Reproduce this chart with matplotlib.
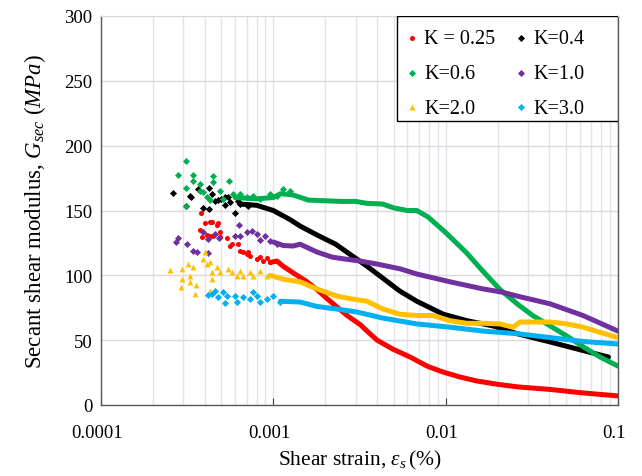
import numpy as np
import matplotlib.pyplot as plt
import matplotlib.transforms as mtransforms
from matplotlib.patches import Rectangle
from matplotlib.ticker import FixedLocator, FixedFormatter, NullFormatter, LogLocator

plt.rcParams['font.family'] = ['Liberation Serif', 'DejaVu Serif']
plt.rcParams['mathtext.fontset'] = 'custom'
plt.rcParams['mathtext.rm'] = 'Liberation Serif'
plt.rcParams['mathtext.it'] = 'Liberation Serif:italic'

labels = ['K = 0.25', 'K=0.4', 'K=0.6', 'K=1.0', 'K=2.0', 'K=3.0']
colors = ['#ff0000', '#000000', '#00b050', '#7030a0', '#ffc000', '#00b0f0']
markers = ['o', 'D', 'D', 'D', '^', 'D']

# scattered points at small strain (strain %, G MPa)
k025_sx = [3.81e-4, 4.29e-4, 3.75e-4, 4.78e-4, 3.86e-4, 4.29e-4, 4.91e-4, 4.91e-4, 5.39e-4, 5.61e-4,
           6.24e-4, 6.41e-4, 7.04e-4, 7.32e-4, 8.37e-4, 8.71e-4, 9.57e-4, 4.02e-4, 4.41e-4, 4.71e-4,
           4.12e-4, 4.47e-4, 5.76e-4, 6.67e-4, 7.13e-4, 8.04e-4, 9.19e-4]
k025_sy = [148.1, 141.1, 134.9, 140.4, 129.6, 130.3, 133.4, 129.6, 128.8, 122.6,
           124.2, 118.8, 116.5, 114.9, 114.1, 111.1, 110.3, 140.4, 141.1, 138.8,
           131.1, 130.3, 124.2, 118.0, 118.0, 112.6, 113.4]

k04_sx = [2.62e-4, 3.29e-4, 3.11e-4, 3.66e-4, 3.91e-4, 4.24e-4, 4.41e-4, 4.78e-4, 5.24e-4, 5.61e-4,
          6.00e-4, 6.24e-4, 3.35e-4, 4.24e-4, 4.59e-4, 5.00e-4, 5.46e-4, 6.41e-4, 7.13e-4, 5.24e-4]
k04_sy = [163.5, 161.2, 153.5, 166.6, 151.9, 151.2, 162.7, 158.1, 160.4, 156.5,
          148.1, 157.3, 160.4, 167.3, 157.3, 158.9, 160.4, 155.0, 153.5, 154.2]

k06_sx = [3.11e-4, 2.80e-4, 3.42e-4, 3.11e-4, 3.42e-4, 3.75e-4, 4.47e-4, 4.47e-4, 5.53e-4, 3.11e-4,
          3.75e-4, 4.12e-4, 4.91e-4, 5.11e-4, 5.84e-4, 6.41e-4, 7.04e-4, 7.62e-4, 8.37e-4, 9.57e-4,
          1.05e-3, 1.14e-3, 1.25e-3, 3.91e-4, 4.29e-4]
k06_sy = [188.2, 177.4, 177.4, 167.3, 172.7, 170.4, 176.6, 172.0, 172.7, 153.5,
          165.0, 160.4, 165.0, 158.9, 162.7, 162.7, 160.4, 161.2, 158.9, 162.7,
          161.2, 166.6, 165.0, 164.3, 158.1]

k10_sx = [2.72e-4, 2.80e-4, 3.16e-4, 3.42e-4, 3.61e-4, 4.18e-4, 3.91e-4, 4.18e-4, 4.59e-4, 4.84e-4,
          6.00e-4, 6.32e-4, 6.41e-4, 7.04e-4, 7.52e-4, 8.04e-4, 8.37e-4, 8.95e-4, 9.57e-4, 1.05e-3]
k10_sy = [125.7, 128.8, 124.2, 118.8, 118.0, 117.2, 133.4, 128.0, 131.9, 128.8,
          130.3, 138.8, 130.3, 133.4, 134.2, 131.9, 127.2, 130.3, 126.5, 124.2]

k20_sx = [2.52e-4, 2.95e-4, 2.95e-4, 2.91e-4, 3.20e-4, 3.42e-4, 3.29e-4, 3.29e-4, 3.56e-4, 3.91e-4,
          4.12e-4, 4.29e-4, 4.41e-4, 4.41e-4, 4.71e-4, 4.91e-4, 5.46e-4, 5.76e-4, 6.16e-4, 6.41e-4,
          6.67e-4, 7.32e-4, 7.62e-4, 8.37e-4, 9.19e-4, 4.02e-4, 4.29e-4, 3.52e-4]
k20_sy = [104.1, 104.9, 97.2, 91.0, 108.7, 106.4, 99.5, 94.9, 92.5, 112.6,
          108.7, 110.3, 102.6, 97.2, 106.4, 102.6, 104.9, 102.6, 99.5, 103.3,
          99.5, 102.6, 99.5, 103.3, 99.5, 118.0, 88.0, 85.6]

k30_sx = [4.41e-4, 4.59e-4, 5.11e-4, 5.39e-4, 4.78e-4, 6.00e-4, 6.16e-4, 6.67e-4, 7.32e-4, 7.62e-4,
          8.04e-4, 8.37e-4, 9.19e-4, 9.96e-4, 1.09e-3, 4.18e-4, 5.24e-4]
k30_sy = [85.6, 87.9, 87.1, 84.1, 83.3, 84.1, 79.4, 83.3, 81.7, 87.1,
          84.1, 79.4, 81.7, 84.1, 79.4, 84.8, 78.7]

# dense part of each record (strain %, G MPa)
k025_cx = [9.6e-4, 1.05e-3, 1.14e-3, 1.30e-3, 1.57e-3, 1.79e-3, 2.05e-3, 2.34e-3, 2.68e-3, 3.19e-3,
           3.50e-3, 4.00e-3, 4.95e-3, 6.22e-3, 7.80e-3, 9.66e-3, 1.21e-2, 1.52e-2, 1.99e-2, 2.60e-2,
           4.04e-2, 6.27e-2, 0.1]
k025_cy = [110, 111, 107, 102, 95, 89, 82, 75.6, 69, 62,
           57, 50, 43, 37, 30, 25.4, 21.6, 18.5, 16, 14,
           12, 9.3, 7]

k04_cx = [6.4e-4, 8.0e-4, 1.0e-3, 1.25e-3, 1.43e-3, 1.80e-3, 2.30e-3, 2.80e-3, 3.50e-3, 4.30e-3,
          5.40e-3, 6.80e-3, 9.70e-3, 1.33e-2, 1.88e-2, 2.60e-2, 4.04e-2, 6.27e-2, 8.80e-2]
k04_cy = [155, 154, 150, 143, 138, 131, 124, 116, 107, 98,
          88, 80, 70, 65, 61, 55, 48.6, 42, 37]

k06_cx = [6.0e-4, 8.0e-4, 1.0e-3, 1.1e-3, 1.3e-3, 1.6e-3, 2.0e-3, 2.5e-3, 3.0e-3, 3.5e-3,
          4.3e-3, 5.0e-3, 6.0e-3, 6.8e-3, 7.9e-3, 1.0e-2, 1.33e-2, 1.65e-2, 2.07e-2, 2.6e-2,
          3.2e-2, 4.04e-2, 5.07e-2, 6.27e-2, 7.87e-2, 0.1]
k06_cy = [160, 159, 160, 163, 162, 158, 157.5, 157, 157, 155.5,
          155, 152, 150, 150, 145, 133, 117, 103, 89, 78,
          69, 61, 53, 45, 37, 30]

k10_cx = [1.0e-3, 1.14e-3, 1.30e-3, 1.43e-3, 1.79e-3, 2.2e-3, 2.6e-3, 3.19e-3, 4.0e-3, 5.44e-3,
          6.82e-3, 1.06e-2, 1.65e-2, 2.13e-2, 2.6e-2, 4.04e-2, 6.27e-2, 0.1]
k10_cy = [125.7, 123, 122.6, 124, 118, 114, 112.6, 111, 108.7, 105,
          101, 95, 89.5, 87, 84, 78, 69, 57]

k20_cx = [9.6e-4, 1.14e-3, 1.43e-3, 1.79e-3, 2.34e-3, 2.79e-3, 3.5e-3, 4.33e-3, 5.44e-3, 6.82e-3,
          8.45e-3, 1.06e-2, 1.33e-2, 1.65e-2, 2.07e-2, 2.46e-2, 2.7e-2, 3.22e-2, 4.04e-2, 5.07e-2,
          6.27e-2, 7.87e-2, 0.1]
k20_cy = [100, 97, 95, 89.5, 84, 82, 80, 74, 70, 69,
          69, 65, 63, 63, 62.5, 60, 64, 64, 64, 62.5,
          60, 56, 52]

k30_cx = [1.1e-3, 1.43e-3, 1.79e-3, 2.34e-3, 3.06e-3, 4.33e-3, 6.82e-3, 1.06e-2, 1.65e-2, 2.6e-2,
          4.04e-2, 6.27e-2, 0.1]
k30_cy = [80, 79.4, 76, 74, 71.7, 67, 62.5, 60, 57, 55,
          52, 49, 47]

scatter_x = [k025_sx, k04_sx, k06_sx, k10_sx, k20_sx, k30_sx]
scatter_y = [k025_sy, k04_sy, k06_sy, k10_sy, k20_sy, k30_sy]
curve_x = [k025_cx, k04_cx, k06_cx, k10_cx, k20_cx, k30_cx]
curve_y = [k025_cy, k04_cy, k06_cy, k10_cy, k20_cy, k30_cy]

fig = plt.figure(figsize=(6.42, 4.77), dpi=100)
ax = fig.add_axes([101/642, 71/477, 517/642, 389/477])

handles = []
for sx, sy, cx, cy, c, m, lab in zip(scatter_x, scatter_y, curve_x, curve_y, colors, markers, labels):
    s = 18 if m == '^' else 13
    h = ax.scatter(sx, sy, s=s, marker=m, color=c, linewidths=0, label=lab, zorder=3)
    ax.plot(cx, cy, color=c, lw=3.6, solid_capstyle='round', zorder=3)
    handles.append(h)

ax.set_xscale('log')
ax.set_xlim(1e-4, 0.1)
ax.set_ylim(0, 300)
ax.set_yticks(np.arange(0, 301, 50))
ax.xaxis.set_major_locator(FixedLocator([1e-4, 1e-3, 1e-2, 1e-1]))
ax.xaxis.set_major_formatter(FixedFormatter(['0.0001', '0.001', '0.01', '0.1']))
ax.xaxis.set_minor_locator(LogLocator(base=10, subs=np.arange(2, 10)))
ax.xaxis.set_minor_formatter(NullFormatter())

ax.grid(axis='y', color='#d9d9d9', lw=1.0, zorder=0)
ax.grid(axis='x', which='both', color='#e2e5ee', lw=1.0, zorder=0)
ax.tick_params(axis='y', length=0, pad=6, labelsize=13.5)
ax.tick_params(axis='x', which='major', direction='in', length=5, color='#404040', pad=14, labelsize=13.5)
ax.tick_params(axis='x', which='minor', length=0)

# x labels sit a little left of their ticks in the original
shift = mtransforms.ScaledTranslation(-4/100, 0, fig.dpi_scale_trans)
for lbl in ax.get_xticklabels():
    lbl.set_transform(lbl.get_transform() + shift)

for side in ['left', 'bottom', 'right']:
    ax.spines[side].set_color('#595959')
    ax.spines[side].set_linewidth(1.0)
ax.spines['top'].set_color('#d9d9d9')

ax.set_xlabel(r'Shear strain, $\varepsilon_s\,$(%)', fontsize=15.5, labelpad=5)
ax.set_ylabel(r'Secant shear modulus, $G_{sec}$ $(MPa)$', fontsize=16.5, labelpad=12)

# legend box drawn separately, entries laid out row by row
box = Rectangle((0.5725, 0.73), 0.4275, 0.27, transform=ax.transAxes, fill=True,
                facecolor='white', edgecolor='black', lw=1.0, zorder=4)
ax.add_patch(box)
order = [0, 2, 4, 1, 3, 5]
leg = ax.legend([handles[i] for i in order], [labels[i] for i in order],
                loc='upper left', bbox_to_anchor=(0.5725, 0.99), ncol=2, fontsize=14.5,
                frameon=False, borderaxespad=0, handlelength=0.6, handletextpad=0.3,
                columnspacing=1.0, labelspacing=0.78, borderpad=0.45, scatterpoints=1)
leg.set_zorder(5)

fig.savefig('out.png', dpi=100)
